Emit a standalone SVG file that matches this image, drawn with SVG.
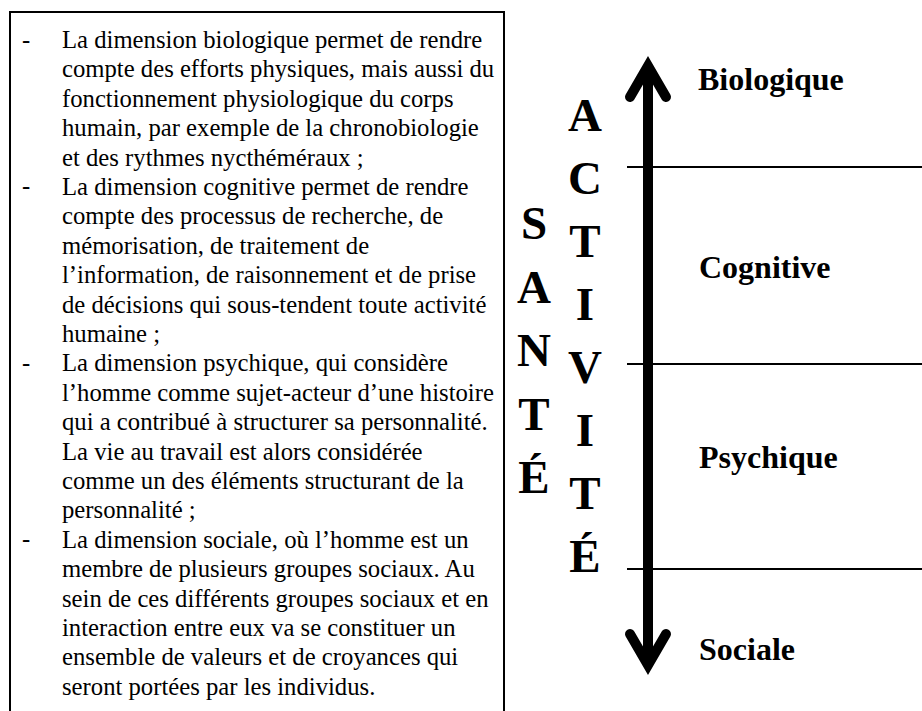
<svg xmlns="http://www.w3.org/2000/svg" width="922" height="711" viewBox="0 0 922 711">
<style>
.body{font-family:"Liberation Serif","Times New Roman",serif;font-size:24.7px;fill:#000}
.big{font-family:"Liberation Serif","Times New Roman",serif;font-size:47px;font-weight:bold;fill:#000;text-anchor:middle}
.lab{font-family:"Liberation Serif","Times New Roman",serif;font-size:32px;font-weight:bold;fill:#000}
.sep{stroke:#000;stroke-width:2;fill:none}
.arr{stroke:#000;stroke-width:10;fill:none}
</style>
<rect width="922" height="711" fill="#fff"/>
<g id="textbox">
<rect x="10" y="12" width="494" height="730" fill="none" stroke="#000" stroke-width="2"/>
<g class="body">
<text x="22" y="48">-</text>
<text x="22" y="194">-</text>
<text x="22" y="371">-</text>
<text x="22" y="547">-</text>
<text x="62" y="48">La dimension biologique permet de rendre</text>
<text x="62" y="77.4">compte des efforts physiques, mais aussi du</text>
<text x="62" y="106.8">fonctionnement physiologique du corps</text>
<text x="62" y="136.2">humain, par exemple de la chronobiologie</text>
<text x="62" y="165.6">et des rythmes nycthéméraux ;</text>
<text x="62" y="195">La dimension cognitive permet de rendre</text>
<text x="62" y="224.4">compte des processus de recherche, de</text>
<text x="62" y="253.8">mémorisation, de traitement de</text>
<text x="62" y="283.2">l’information, de raisonnement et de prise</text>
<text x="62" y="312.6">de décisions qui sous-tendent toute activité</text>
<text x="62" y="342">humaine ;</text>
<text x="62" y="371.4">La dimension psychique, qui considère</text>
<text x="62" y="400.8">l’homme comme sujet-acteur d’une histoire</text>
<text x="62" y="430.2">qui a contribué à structurer sa personnalité.</text>
<text x="62" y="459.6">La vie au travail est alors considérée</text>
<text x="62" y="489">comme un des éléments structurant de la</text>
<text x="62" y="518.4">personnalité ;</text>
<text x="62" y="547.8">La dimension sociale, où l’homme est un</text>
<text x="62" y="577.2">membre de plusieurs groupes sociaux. Au</text>
<text x="62" y="606.6">sein de ces différents groupes sociaux et en</text>
<text x="62" y="636">interaction entre eux va se constituer un</text>
<text x="62" y="665.4">ensemble de valeurs et de croyances qui</text>
<text x="62" y="694.8">seront portées par les individus.</text>
</g>
</g>
<g id="sante" class="big">
<text x="534" y="239">S</text>
<text x="534" y="302.5">A</text>
<text x="534" y="366">N</text>
<text x="534" y="429.5">T</text>
<text x="534" y="493">É</text>
</g>
<g id="activite" class="big">
<text x="585" y="131">A</text>
<text x="585" y="194">C</text>
<text x="585" y="257">T</text>
<text x="585" y="320">I</text>
<text x="585" y="383">V</text>
<text x="585" y="446">I</text>
<text x="585" y="509">T</text>
<text x="585" y="572">É</text>
</g>
<g id="labels" class="lab">
<text x="698" y="90">Biologique</text>
<text x="699" y="278">Cognitive</text>
<text x="699" y="468">Psychique</text>
<text x="699" y="660">Sociale</text>
</g>
<g id="connectors">
<line class="sep" x1="627" y1="167" x2="922" y2="167"/>
<line class="sep" x1="627" y1="364" x2="922" y2="364"/>
<line class="sep" x1="627" y1="569" x2="922" y2="569"/>
<line class="arr" x1="648" y1="68" x2="648" y2="662"/>
<polyline class="arr" points="630,97 648,66 666,97" stroke-linecap="round" stroke-linejoin="miter"/>
<polyline class="arr" points="630,634 648,665 666,634" stroke-linecap="round" stroke-linejoin="miter"/>
</g>
</svg>
